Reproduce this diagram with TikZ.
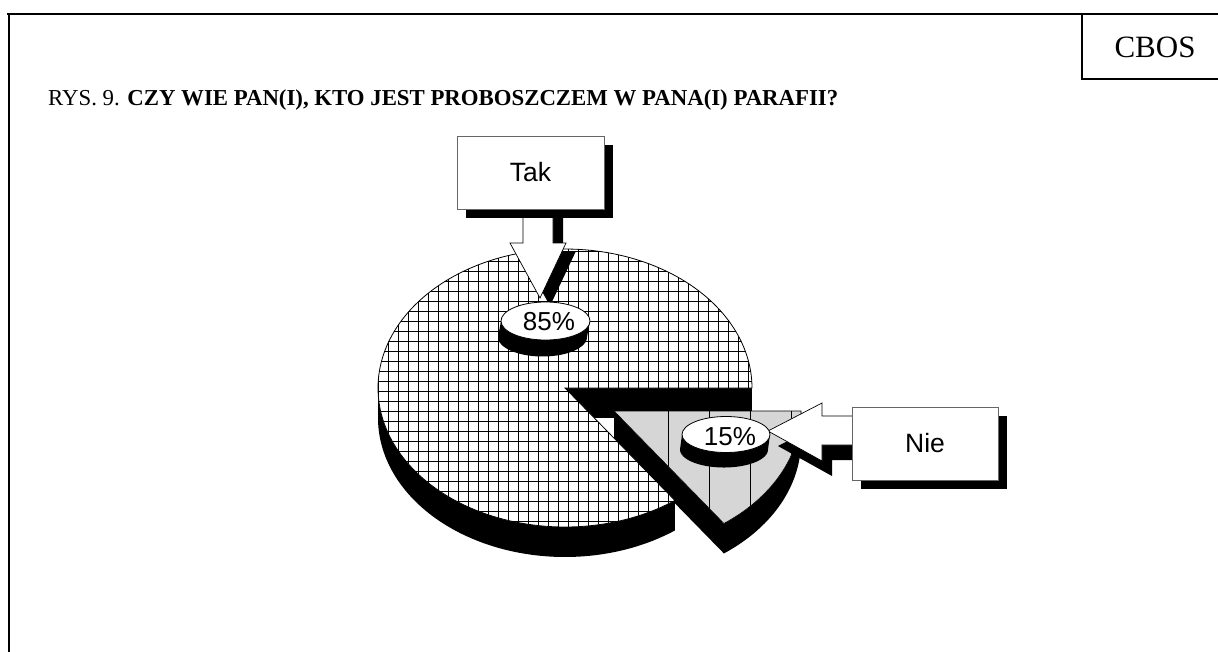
\documentclass[tikz,border=0pt]{standalone}
\usepackage{fontspec}
\setmainfont{Liberation Serif}
\newfontfamily\arialf{Liberation Sans}
\usetikzlibrary{shapes.geometric}
\begin{document}
\begin{tikzpicture}[x=1pt,y=-1pt,
  frame/.style={line width=1.8pt, line cap=rect},
  edge/.style={draw=black, line width=0.8pt},
  shadowfill/.style={fill=black},
  hatch/.style={line width=1.3pt},
  labelbox/.style={draw=black!60, line width=0.9pt, fill=white, minimum width=147pt, minimum height=73pt, inner sep=0pt, font=\arialf\fontsize{26.5}{30}\selectfont},
  pctdisc/.style={ellipse, draw=black, line width=0.8pt, fill=white, minimum width=89pt, minimum height=38pt, inner sep=0pt},
  pcttext/.style={anchor=base, inner sep=0pt, font=\arialf\fontsize{26}{30}\selectfont},
  arrowbody/.style={fill=white, draw=black, line width=0.7pt, line join=miter},
]
\useasboundingbox (0,0) rectangle (1218,651);

% ---- frame ----
\draw[frame] (8,14) -- (1218,14);
\draw[frame] (9,14) -- (9,651);
\draw[frame] (1082,14) -- (1082,79) -- (1218,79);
\node[anchor=base, inner sep=0pt, font=\fontsize{31}{34}\selectfont] (cbos) at (1155,57) {CBOS};
\node[anchor=base west, inner sep=0pt, font=\fontsize{22.8}{26}\selectfont] (title) at (48,105)
  {RYS. 9. \textbf{CZY WIE PAN(I), KTO JEST PROBOSZCZEM W PANA(I) PARAFII?}};

% ---- big slice (85%) ----
\fill[shadowfill] plot[domain=54:180,samples=80] ({565+187*cos(\x)},{388+139*sin(\x)})
  -- plot[domain=180:54,samples=80] ({565+187*cos(\x)},{418+139*sin(\x)}) -- cycle;
\fill[shadowfill] (565,388) rectangle (752,418);

% ---- small slice (15%) sides ----
\fill[shadowfill] (614,411) -- ({614+187*cos(54)},{411+139*sin(54)}) -- ({614+187*cos(54)},{441+139*sin(54)}) -- (614,441) -- cycle;
\fill[shadowfill] plot[domain=0:54,samples=50] ({614+187*cos(\x)},{411+139*sin(\x)})
  -- plot[domain=54:0,samples=50] ({614+187*cos(\x)},{441+139*sin(\x)}) -- cycle;

% big top face
\fill[white] (565,388) -- plot[domain=54:360,samples=180] ({565+187*cos(\x)},{388+139*sin(\x)}) -- cycle;
\begin{scope}
  \clip (565,388) -- plot[domain=54:360,samples=180] ({565+187*cos(\x)},{388+139*sin(\x)}) -- cycle;
  \foreach \i in {0,...,38} {\draw[hatch] ({378.5+\i*10},240) -- ++(0,300);}
  \foreach \j in {0,...,29} {\draw[hatch] (370,{251.5+\j*10}) -- ++(400,0);}
\end{scope}
\draw[edge] (565,388) -- plot[domain=54:360,samples=180] ({565+187*cos(\x)},{388+139*sin(\x)}) -- cycle;

% small top face
\fill[black!16] (614,411) -- plot[domain=0:54,samples=50] ({614+187*cos(\x)},{411+139*sin(\x)}) -- cycle;
\begin{scope}
  \clip (614,411) -- plot[domain=0:54,samples=50] ({614+187*cos(\x)},{411+139*sin(\x)}) -- cycle;
  \foreach \xx in {668.5,709.5,750.5,791.5} {\draw[line width=0.9pt] (\xx,400) -- (\xx,540);}
\end{scope}
\draw[edge, line width=0.6pt] (614,411) -- plot[domain=0:54,samples=50] ({614+187*cos(\x)},{411+139*sin(\x)}) -- cycle;

% ---- Tak callout ----
\fill[shadowfill] (533,217) -- (533,251) -- (520,251) -- (550,306) -- (576,251) -- (563,251) -- (563,217) -- cycle;
\filldraw[arrowbody] (523,205) -- (523,243) -- (510,243) -- (540,298) -- (566,243) -- (553,243) -- (553,205);
\fill[shadowfill] (466,145) rectangle (613,218);
\node[labelbox] (tak) at (530.5,172.5) {Tak};

% 85% disc
\fill[shadowfill] (501,321) -- plot[domain=180:0,samples=60] ({542.5+44.5*cos(\x)},{337+19.5*sin(\x)}) -- (590,321) -- cycle;
\node[pctdisc] (d85) at (545.5,321) {};
\node[pcttext] (t85) at (549,330) {85\%};

% ---- Nie callout ----
\fill[shadowfill] (862,431) -- (832,431) -- (832,418) -- (778,446) -- (832,476) -- (832,460) -- (862,460) -- cycle;
\filldraw[arrowbody] (856,416) -- (822,416) -- (822,403) -- (768,431) -- (822,461) -- (822,445) -- (856,445);
\fill[shadowfill] (861,416) rectangle (1007,489);
\node[labelbox, minimum width=146pt] (nie) at (925,443.5) {Nie};

% 15% disc
\fill[shadowfill] (682,434.5) -- plot[domain=180:0,samples=60] ({724+44*cos(\x)},{449.5+18*sin(\x)}) -- (770,434.5) -- cycle;
\node[pctdisc, minimum width=88pt, minimum height=36pt] (d15) at (726,434.5) {};
\node[pcttext] (t15) at (730,445) {15\%};
\end{tikzpicture}
\end{document}
